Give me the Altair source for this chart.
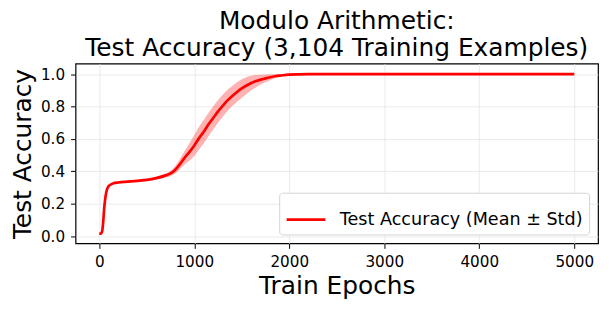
import altair as alt
import pandas as pd

epochs = [0, 10, 20, 30, 40, 50, 60, 70, 80, 90, 100, 120, 150, 200, 300, 400, 500, 600,
          700, 750, 800, 850, 900, 950, 1000, 1050, 1100, 1150, 1200, 1250, 1300, 1350,
          1400, 1450, 1500, 1550, 1600, 1650, 1700, 1750, 1800, 1850, 1900, 1950, 2000,
          2100, 2200, 2500, 3000, 3500, 4000, 4500, 5000]
mean_acc = [0.015, 0.015, 0.018, 0.03, 0.08, 0.16, 0.22, 0.26, 0.285, 0.30, 0.31, 0.318,
            0.326, 0.331, 0.336, 0.341, 0.347, 0.358, 0.375, 0.387, 0.41, 0.445, 0.485,
            0.52, 0.56, 0.605, 0.645, 0.69, 0.73, 0.77, 0.805, 0.838, 0.865, 0.89, 0.912,
            0.93, 0.945, 0.957, 0.966, 0.974, 0.981, 0.987, 0.991, 0.994, 0.997, 0.999,
            1.0, 1.0, 1.0, 1.0, 1.0, 1.0, 1.0]
std_acc = [0.0, 0.0, 0.0, 0.002, 0.003, 0.004, 0.004, 0.004, 0.004, 0.004, 0.004, 0.004,
           0.004, 0.004, 0.004, 0.005, 0.006, 0.008, 0.013, 0.017, 0.023, 0.032, 0.042,
           0.055, 0.065, 0.07, 0.072, 0.072, 0.072, 0.07, 0.068, 0.065, 0.062, 0.06, 0.057,
           0.052, 0.045, 0.038, 0.03, 0.024, 0.018, 0.012, 0.008, 0.005, 0.003, 0.001,
           0.0, 0.0, 0.0, 0.0, 0.0, 0.0, 0.0]

x_ticks = [0, 1000, 2000, 3000, 4000, 5000]
y_ticks = [0.0, 0.2, 0.4, 0.6, 0.8, 1.0]
series_name = "Test Accuracy (Mean ± Std)"

df = pd.DataFrame({"epoch": epochs, "mean": mean_acc, "std": std_acc})
df["lo"] = df["mean"] - df["std"]
df["hi"] = df["mean"] + df["std"]
df["series"] = series_name

FONT = "DejaVu Sans"

x_axis = alt.Axis(values=x_ticks, format="d", title="Train Epochs", labelOverlap=False)
y_axis = alt.Axis(values=y_ticks, format=".1f", title="Test Accuracy",
                  labelOverlap=False, labelFlush=False)
x_scale = alt.Scale(domain=[-250, 5250], nice=False, zero=False)
y_scale = alt.Scale(domain=[-0.045, 1.065], nice=False, zero=False)

band = alt.Chart(df).mark_area(color="#ff0000", opacity=0.3, interpolate="monotone").encode(
    x=alt.X("epoch:Q", scale=x_scale, axis=x_axis),
    y=alt.Y("lo:Q", scale=y_scale, axis=y_axis),
    y2="hi:Q",
)

line = alt.Chart(df).mark_line(strokeWidth=2.7, interpolate="monotone").encode(
    x=alt.X("epoch:Q", scale=x_scale, axis=x_axis),
    y=alt.Y("mean:Q", scale=y_scale, axis=y_axis),
    color=alt.Color("series:N", scale=alt.Scale(range=["#ff0000"]),
                    legend=alt.Legend(title=None, orient="bottom-right", offset=9,
                                      symbolType="stroke", symbolStrokeWidth=2.7,
                                      symbolSize=1521, fillColor="white",
                                      strokeColor="#d4d4d4", cornerRadius=3,
                                      padding=6, labelFontSize=17.7, labelFont=FONT,
                                      labelColor="black", labelOffset=13, labelLimit=0)),
)

chart = (band + line).properties(
    width=526, height=181,
    title=alt.TitleParams(["Modulo Arithmetic:", "Test Accuracy (3,104 Training Examples)"],
                          fontSize=25, font=FONT, fontWeight="normal", color="black",
                          anchor="middle", lineHeight=27, offset=3),
    autosize=alt.AutoSizeParams(type="none"),
    padding={"left": 68, "top": 55, "right": 5, "bottom": 59},
).configure_view(stroke="black", strokeWidth=1.2).configure_axis(
    domain=False, grid=True, gridColor="#e6e6e6", gridWidth=0.8,
    tickColor="black", tickSize=5, tickWidth=1, labelPadding=6,
    labelFont=FONT, labelFontSize=15.3, labelColor="black",
    titleFont=FONT, titleFontSize=25, titleFontWeight="normal", titleColor="black",
).configure_axisX(titlePadding=4).configure_axisY(titlePadding=5)

chart.save("out.html", embed_options={"renderer": "svg", "actions": False})
